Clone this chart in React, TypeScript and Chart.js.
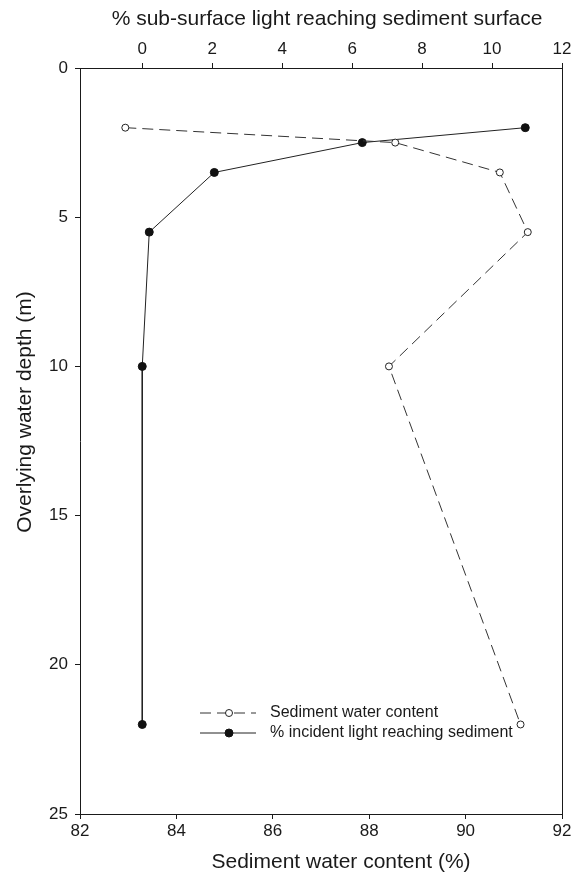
import React, { useEffect, useRef } from "react";
import { Chart, registerables } from "chart.js";

Chart.register(...registerables);

// Depths (m)
const depths = [2, 2.5, 3.5, 5.5, 10, 22];
// Sediment water content (%) – bottom axis
const sedimentWater = [82.94, 88.54, 90.71, 91.29, 88.41, 91.14];
// % sub-surface light reaching sediment surface – top axis
const lightPct = [10.95, 6.29, 2.06, 0.2, 0.0, 0.0];

const bottomTicks = [82, 84, 86, 88, 90, 92];
const topTicks = [0, 2, 4, 6, 8, 10, 12];
const depthTicks = [0, 5, 10, 15, 20, 25];

const seriesLabels = ["Sediment water content", "% incident light reaching sediment"];
const bottomTitle = "Sediment water content (%)";
const topTitle = "% sub-surface light reaching sediment surface";
const leftTitle = "Overlying water depth (m)";

const FONT = "'Liberation Sans', Arial, Helvetica, sans-serif";
const INK = "#1a1a1a";

const frameLegendTitles = {
  id: "frameLegendTitles",
  afterDraw(chart: any) {
    const { ctx, chartArea } = chart;
    ctx.save();
    // right frame line
    ctx.strokeStyle = INK;
    ctx.lineWidth = 1;
    ctx.beginPath();
    ctx.moveTo(Math.round(chartArea.right) + 0.5, chartArea.top);
    ctx.lineTo(Math.round(chartArea.right) + 0.5, chartArea.bottom);
    ctx.stroke();

    // axis titles
    ctx.fillStyle = INK;
    ctx.font = `21px ${FONT}`;
    ctx.textAlign = "center";
    ctx.textBaseline = "middle";
    ctx.fillText(bottomTitle, 341, 862);
    ctx.fillText(topTitle, 327, 19);
    ctx.save();
    ctx.translate(25, 412);
    ctx.rotate(-Math.PI / 2);
    ctx.fillText(leftTitle, 0, 0);
    ctx.restore();

    // legend
    const lx0 = 200, lx1 = 256, mx = 229, tx = 270;
    const rows = [713, 733];
    chart.data.datasets.forEach((ds: any, i: number) => {
      const y = rows[i];
      ctx.strokeStyle = ds.borderColor;
      ctx.lineWidth = ds.borderWidth;
      ctx.setLineDash(ds.borderDash || []);
      ctx.beginPath();
      ctx.moveTo(lx0, y);
      ctx.lineTo(lx1, y);
      ctx.stroke();
      ctx.setLineDash([]);
      ctx.beginPath();
      ctx.arc(mx, y, ds.pointRadius, 0, Math.PI * 2);
      ctx.fillStyle = ds.pointBackgroundColor;
      ctx.fill();
      ctx.strokeStyle = ds.pointBorderColor;
      ctx.lineWidth = ds.pointBorderWidth;
      ctx.stroke();
      ctx.fillStyle = INK;
      ctx.font = `16px ${FONT}`;
      ctx.textBaseline = "middle";
      ctx.textAlign = "left";
      ctx.fillText(ds.label, tx, y);
    });
    ctx.restore();
  },
};

export default function App() {
  const ref = useRef<HTMLCanvasElement | null>(null);

  useEffect(() => {
    if (!ref.current) return;
    const axisCommon = {
      grid: {
        display: true,
        drawOnChartArea: false,
        drawTicks: true,
        tickLength: 5,
        color: INK,
      },
      border: { display: true, color: INK, width: 1 },
    };
    const chart = new Chart(ref.current, {
      type: "scatter",
      data: {
        datasets: [
          {
            label: seriesLabels[0],
            data: depths.map((d, i) => ({ x: sedimentWater[i], y: d })),
            xAxisID: "x",
            yAxisID: "y",
            showLine: true,
            borderColor: "#333",
            borderWidth: 1,
            borderDash: [11, 6],
            pointRadius: 3.5,
            pointBackgroundColor: "#ffffff",
            pointBorderColor: "#222",
            pointBorderWidth: 1,
          },
          {
            label: seriesLabels[1],
            data: depths.map((d, i) => ({ x: lightPct[i], y: d })),
            xAxisID: "x2",
            yAxisID: "y",
            showLine: true,
            borderColor: "#222",
            borderWidth: 1,
            borderDash: [],
            pointRadius: 4,
            pointBackgroundColor: "#111",
            pointBorderColor: "#111",
            pointBorderWidth: 1,
          },
        ] as any,
      },
      options: {
        animation: false,
        responsive: true,
        maintainAspectRatio: false,
        layout: { padding: { left: 0, right: 23, top: 0, bottom: 0 } },
        plugins: {
          legend: { display: false },
          tooltip: { enabled: false },
        },
        scales: {
          x: {
            type: "linear",
            position: "bottom",
            min: 82,
            max: 92,
            ...axisCommon,
            afterBuildTicks: (s: any) => {
              s.ticks = bottomTicks.map((v) => ({ value: v }));
            },
            afterFit: (s: any) => {
              s.height = 61;
            },
            ticks: {
              color: INK,
              font: { family: FONT, size: 17 },
              padding: 2,
              maxRotation: 0,
            },
            title: { display: false },
          },
          x2: {
            type: "linear",
            position: "top",
            min: -1.78,
            max: 12,
            ...axisCommon,
            afterBuildTicks: (s: any) => {
              s.ticks = topTicks.map((v) => ({ value: v }));
            },
            afterFit: (s: any) => {
              s.height = 68;
            },
            ticks: {
              color: INK,
              font: { family: FONT, size: 17 },
              padding: 3,
              maxRotation: 0,
            },
            title: { display: false },
          },
          y: {
            type: "linear",
            position: "left",
            min: 0,
            max: 25,
            reverse: true,
            ...axisCommon,
            afterBuildTicks: (s: any) => {
              s.ticks = depthTicks.map((v) => ({ value: v }));
            },
            afterFit: (s: any) => {
              s.width = 80;
            },
            ticks: {
              color: INK,
              font: { family: FONT, size: 17 },
              padding: 7,
            },
            title: { display: false },
          },
        },
      } as any,
      plugins: [frameLegendTitles],
    });
    return () => chart.destroy();
  }, []);

  return (
    <div style={{ position: "absolute", left: 0, top: 0, width: 585, height: 875, background: "#fff" }}>
      <canvas ref={ref} />
    </div>
  );
}
